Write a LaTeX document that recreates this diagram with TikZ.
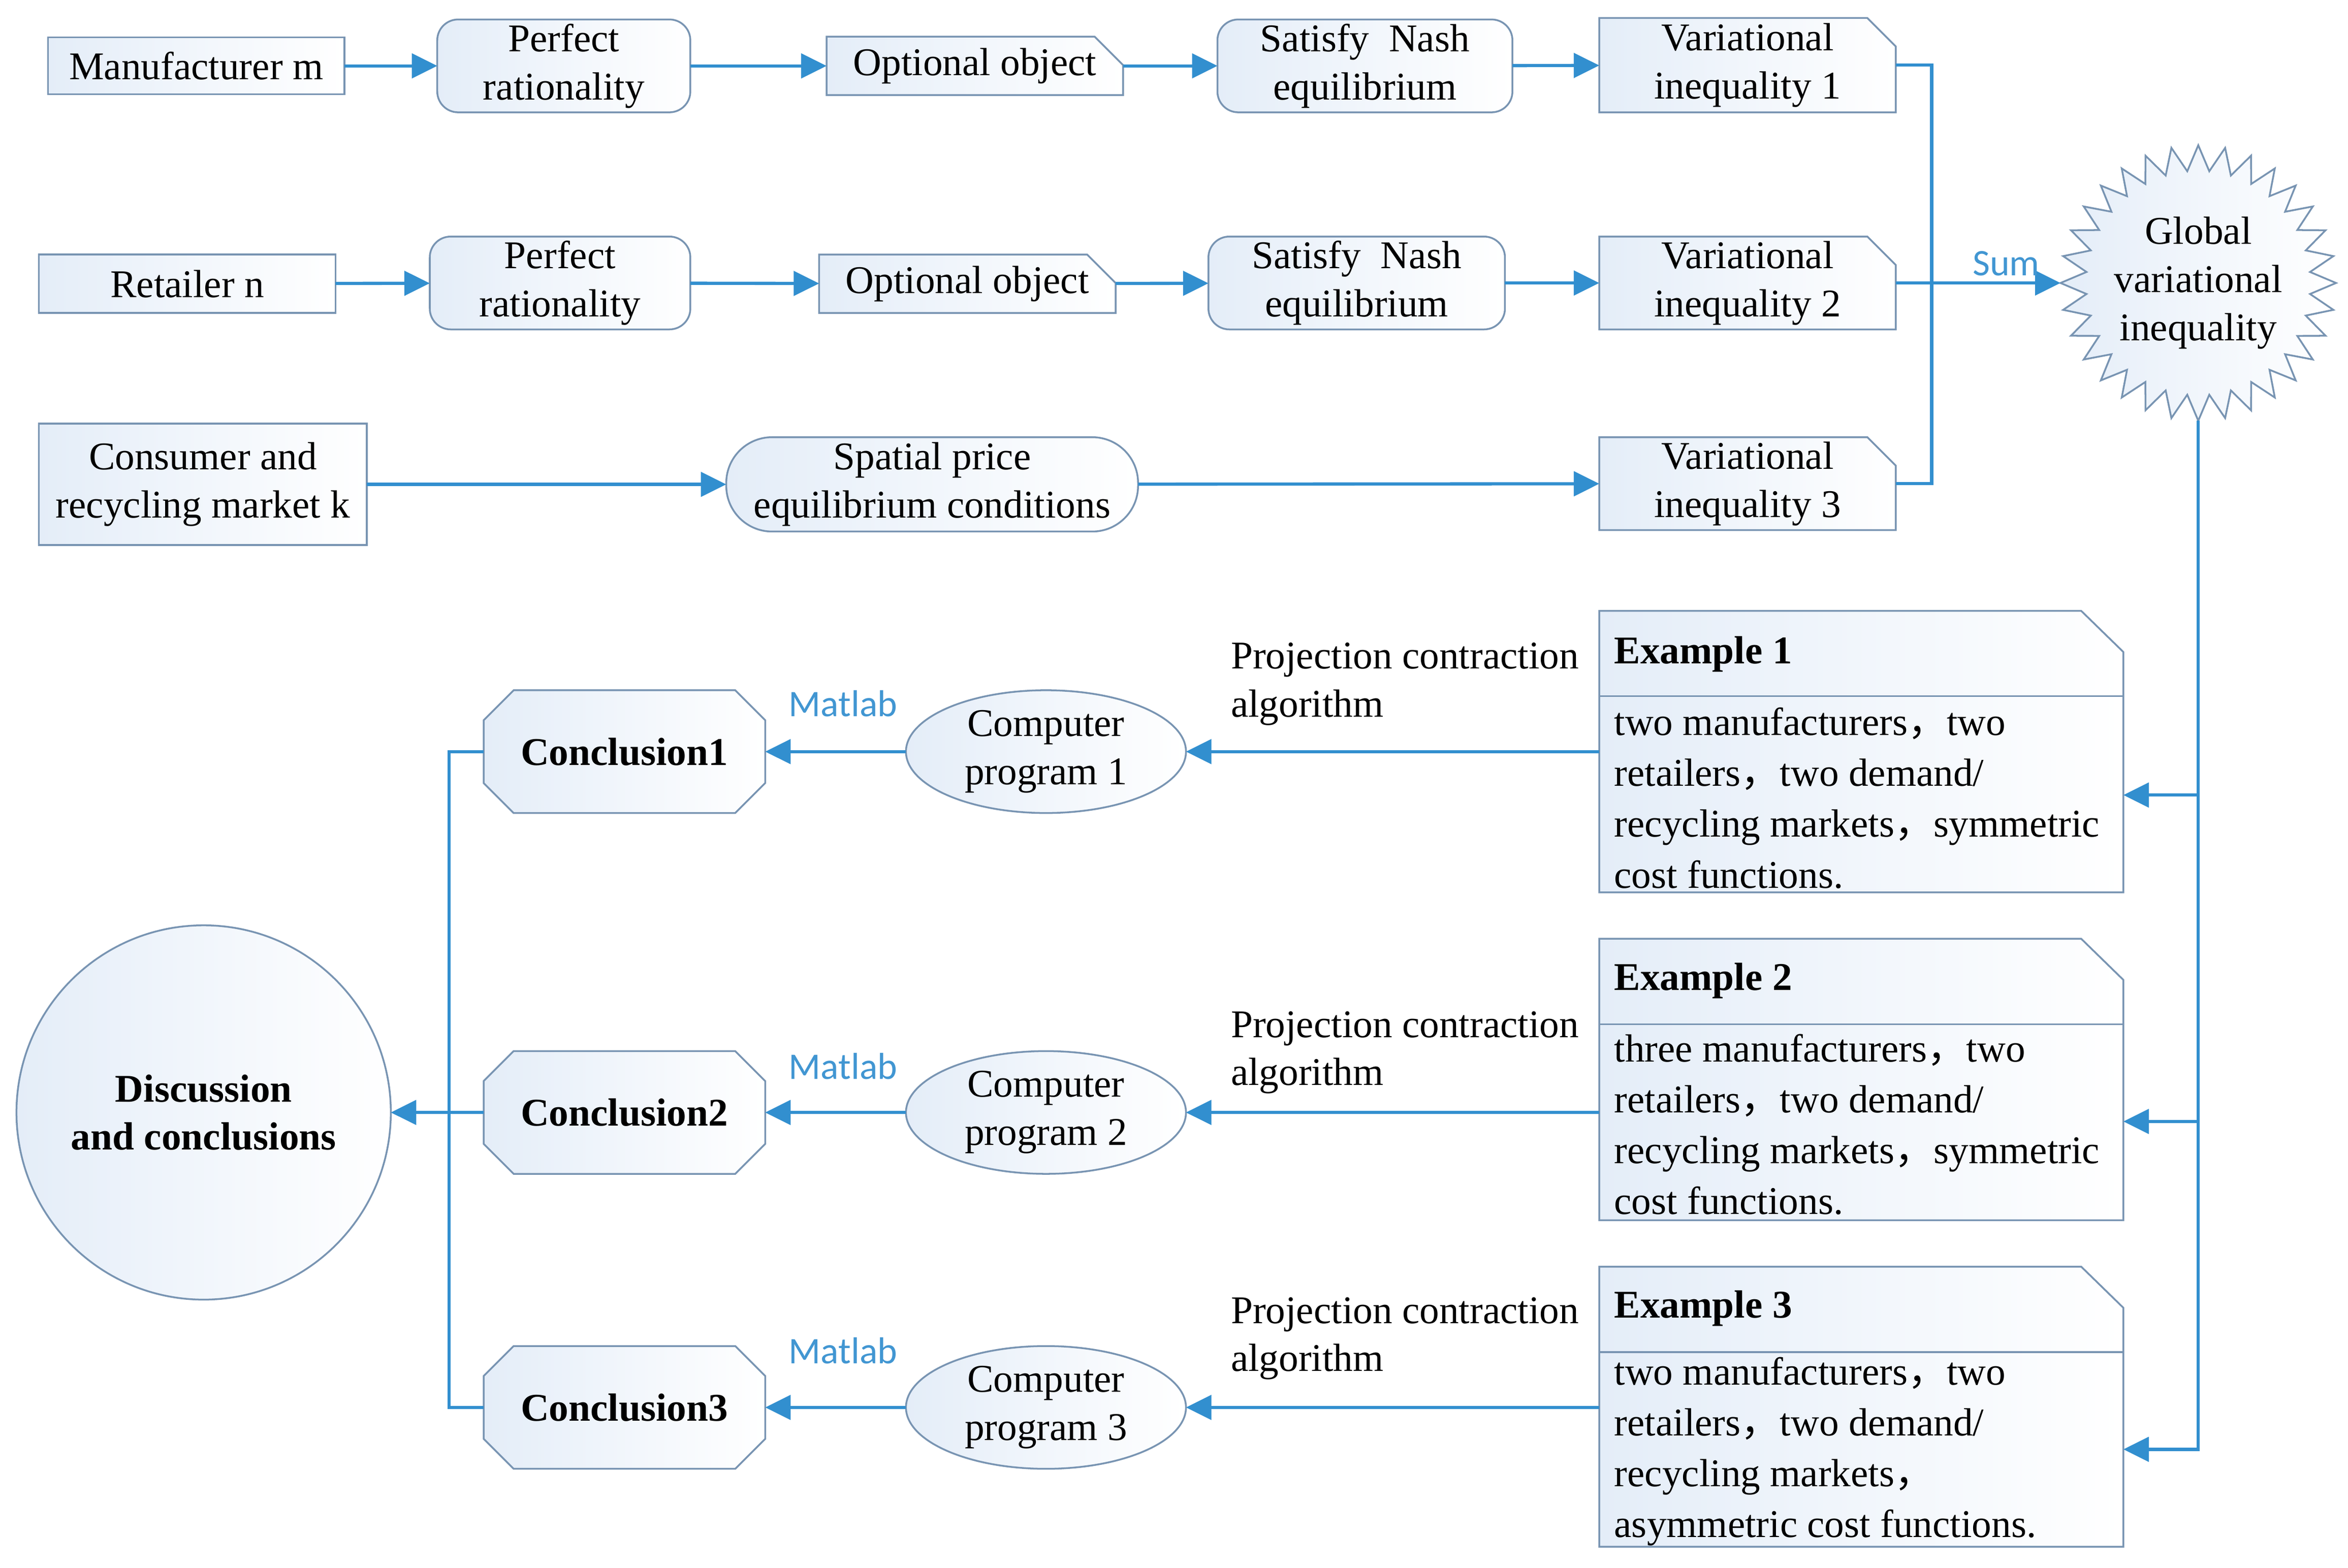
\documentclass[tikz,border=0pt]{standalone}
\usepackage{fontspec}
\setmainfont{Liberation Serif}
\newfontfamily\cjkfont{Noto Sans CJK SC}
\newfontfamily\labfont{Carlito}
\usetikzlibrary{arrows.meta,shapes.geometric,calc}
\pgfdeclarelayer{background}
\pgfsetlayers{background,main}
\definecolor{conn}{RGB}{50,143,207}
\definecolor{labc}{RGB}{65,150,210}
\definecolor{edge}{RGB}{120,148,178}
\definecolor{fillc}{RGB}{228,237,248}
\newcommand\pxu{0.02948cm}
\newcommand\zc{{\cjkfont ，}}
\newcommand\cutoutline[3]{\draw[boxfill] (#1.north west) -- ([xshift=-#2]#1.north east) -- ([yshift=-#3]#1.north east) -- (#1.south east) -- (#1.south west) -- cycle;}
\newcommand\octoutline[2]{\draw[boxfill] ([xshift=#2]#1.north west) -- ([xshift=-#2]#1.north east) -- ([yshift=-#2]#1.north east) -- ([yshift=#2]#1.south east) -- ([xshift=-#2]#1.south east) -- ([xshift=#2]#1.south west) -- ([yshift=#2]#1.south west) -- ([yshift=-#2]#1.north west) -- cycle;}
\begin{document}
\begin{tikzpicture}[x=0.02948cm, y=-0.02948cm,
 every node/.style={font=\fontsize{22}{27}\selectfont, inner sep=0pt, outer sep=0pt, align=center},
 sz/.style 2 args={minimum width={#1*\pxu}, minimum height={#2*\pxu}},
 boxfill/.style={draw=edge, line width=1pt, left color=fillc, right color=white},
 plainbox/.style={rectangle, boxfill},
 roundbox/.style={rectangle, boxfill, rounded corners=0.41cm},
 holder/.style={rectangle},
 ellbox/.style={ellipse, boxfill},
 line/.style={draw=conn, line width=1.8pt},
 arrow/.style={line, -{Triangle[length=0.5cm,width=0.48cm]}},
 lab/.style={font=\labfont\fontsize{21}{25}\selectfont, text=labc},
 hdr/.style={anchor=west, font=\fontsize{22}{27}\selectfont\bfseries},
 body/.style={anchor=west, align=left, font=\fontsize{22}{28.5}\selectfont},
 plbl/.style={anchor=west, align=left},
]
\useasboundingbox (0,0) rectangle (1568,1047);

% Row 1
\node[plainbox, sz={198}{38}] (man) at (131,44) {Manufacturer m};
\node[roundbox, sz={169}{62}] (pr1) at (376.5,44) {Perfect\\rationality};
\node[holder, sz={198}{39}] (oo1) at (651,44) {Optional object};
\node[roundbox, sz={197}{62}] (sn1) at (911.5,44) {Satisfy\ \ Nash\\equilibrium};
\node[holder, sz={198}{63}] (vi1) at (1167,43.5) {Variational\\inequality 1};

% Row 2
\node[plainbox, sz={198}{39}] (ret) at (125,189.5) {Retailer n};
\node[roundbox, sz={174}{62}] (pr2) at (374,189) {Perfect\\rationality};
\node[holder, sz={198}{39}] (oo2) at (646,189.5) {Optional object};
\node[roundbox, sz={198}{62}] (sn2) at (906,189) {Satisfy\ \ Nash\\equilibrium};
\node[holder, sz={198}{62}] (vi2) at (1167,189) {Variational\\inequality 2};

% Row 3
\node[plainbox, sz={219}{81}] (con) at (135.5,323.5) {Consumer and\\recycling market k};
\node[rectangle, boxfill, rounded corners=0.9cm, sz={275}{63}] (spe) at (622.5,323.5) {Spatial price\\equilibrium conditions};
\node[holder, sz={198}{62}] (vi3) at (1167,323) {Variational\\inequality 3};

% Global
\node[circle, sz={184}{184}] (gvi) at (1468,189) {Global\\variational\\inequality};

% Examples
\node[holder, sz={350}{188}] (ex1) at (1243,502) {};
\node[hdr] (ex1h) at (1078,437) {Example 1};
\node[body] (ex1b) at (1078,533) {two manufacturers\zc two\\retailers\zc two demand/\\recycling markets\zc symmetric\\cost functions.};
\node[holder, sz={350}{188}] (ex2) at (1243,721) {};
\node[hdr] (ex2h) at (1078,655) {Example 2};
\node[body] (ex2b) at (1078,751) {three manufacturers\zc two\\retailers\zc two demand/\\recycling markets\zc symmetric\\cost functions.};
\node[holder, sz={350}{187}] (ex3) at (1243,939.5) {};
\node[hdr] (ex3h) at (1078,874) {Example 3};
\node[body] (ex3b) at (1078,969.5) {two manufacturers\zc two\\retailers\zc two demand/\\recycling markets\zc\\asymmetric cost functions.};

% Projection labels
\node[plbl] (pc1) at (822,457) {Projection contraction\\algorithm};
\node[plbl] (pc2) at (822,703) {Projection contraction\\algorithm};
\node[plbl] (pc3) at (822,894) {Projection contraction\\algorithm};

% Computer programs
\node[ellbox, sz={187}{82}] (cp1) at (698.5,502) {Computer\\program 1};
\node[ellbox, sz={187}{82}] (cp2) at (698.5,743) {Computer\\program 2};
\node[ellbox, sz={187}{82}] (cp3) at (698.5,940) {Computer\\program 3};

% Matlab labels
\node[lab] (ml1) at (563,470) {Matlab};
\node[lab] (ml2) at (563,712) {Matlab};
\node[lab] (ml3) at (563,902) {Matlab};

% Conclusions
\node[holder, sz={188}{82}, font=\fontsize{22}{27}\selectfont\bfseries] (c1) at (417,502) {Conclusion1};
\node[holder, sz={188}{82}, font=\fontsize{22}{27}\selectfont\bfseries] (c2) at (417,743) {Conclusion2};
\node[holder, sz={188}{82}, font=\fontsize{22}{27}\selectfont\bfseries] (c3) at (417,940) {Conclusion3};

% Discussion
\node[circle, boxfill, sz={250}{250}, font=\fontsize{22}{27}\selectfont\bfseries] (disc) at (136,743) {Discussion\\and conclusions};

% Background outlines
\begin{pgfonlayer}{background}
\foreach \n in {oo1,oo2,vi1,vi2,vi3} {\cutoutline{\n}{0.56cm}{0.56cm}}
\foreach \n in {ex1,ex2,ex3} {\cutoutline{\n}{0.83cm}{0.81cm}
  \draw[draw=edge, line width=1pt] ($(\n.north west)+(0,57)$) -- ($(\n.north east)+(0,57)$);}
\foreach \n in {c1,c2,c3} {\octoutline{\n}{0.59cm}}
\draw[boxfill] ($(gvi.center)+(90:92)$)
  \foreach \i [evaluate=\i as \r using {ifthenelse(mod(\i,2)==0,92,75)}, evaluate=\i as \a using {90+\i*5.625}] in {1,...,63} { -- ($(gvi.center)+(\a:\r)$) } -- cycle;
\end{pgfonlayer}

% Connectors rows
\draw[arrow] (man) -- (pr1);
\draw[arrow] (pr1) -- (oo1);
\draw[arrow] (oo1) -- (sn1);
\draw[arrow] (sn1) -- (vi1);
\draw[arrow] (ret) -- (pr2);
\draw[arrow] (pr2) -- (oo2);
\draw[arrow] (oo2) -- (sn2);
\draw[arrow] (sn2) -- (vi2);
\draw[arrow] (con) -- (spe);
\draw[arrow] (spe) -- (vi3);

\coordinate (jn) at (1290,189);
\draw[line] (vi1.east) -| (jn) |- (vi3.east);
\draw[arrow] (vi2.east) -- (gvi.west) node[lab, pos=0.67, above=4pt] (sum) {Sum};

% Global to examples
\coordinate (t1) at (1468,531);
\coordinate (t2) at (1468,749);
\coordinate (ex1in) at (1418,531);
\coordinate (ex2in) at (1418,749);
\coordinate (ex3in) at (1418,968);
\draw[arrow] (gvi.south) |- (ex3in);
\draw[arrow] (t1) -- (ex1in);
\draw[arrow] (t2) -- (ex2in);

% Examples to programs
\draw[arrow] (ex1.west |- cp1) -- (cp1);
\draw[arrow] (ex2.west |- cp2) -- (cp2);
\draw[arrow] (ex3.west |- cp3) -- (cp3);

% Programs to conclusions
\draw[arrow] (cp1) -- (c1);
\draw[arrow] (cp2) -- (c2);
\draw[arrow] (cp3) -- (c3);

% Conclusions to discussion
\coordinate (lj) at (300,743);
\draw[line] (c1.west) -| (lj) |- (c3.west);
\draw[arrow] (c2.west) -- (disc.east);
\end{tikzpicture}
\end{document}
